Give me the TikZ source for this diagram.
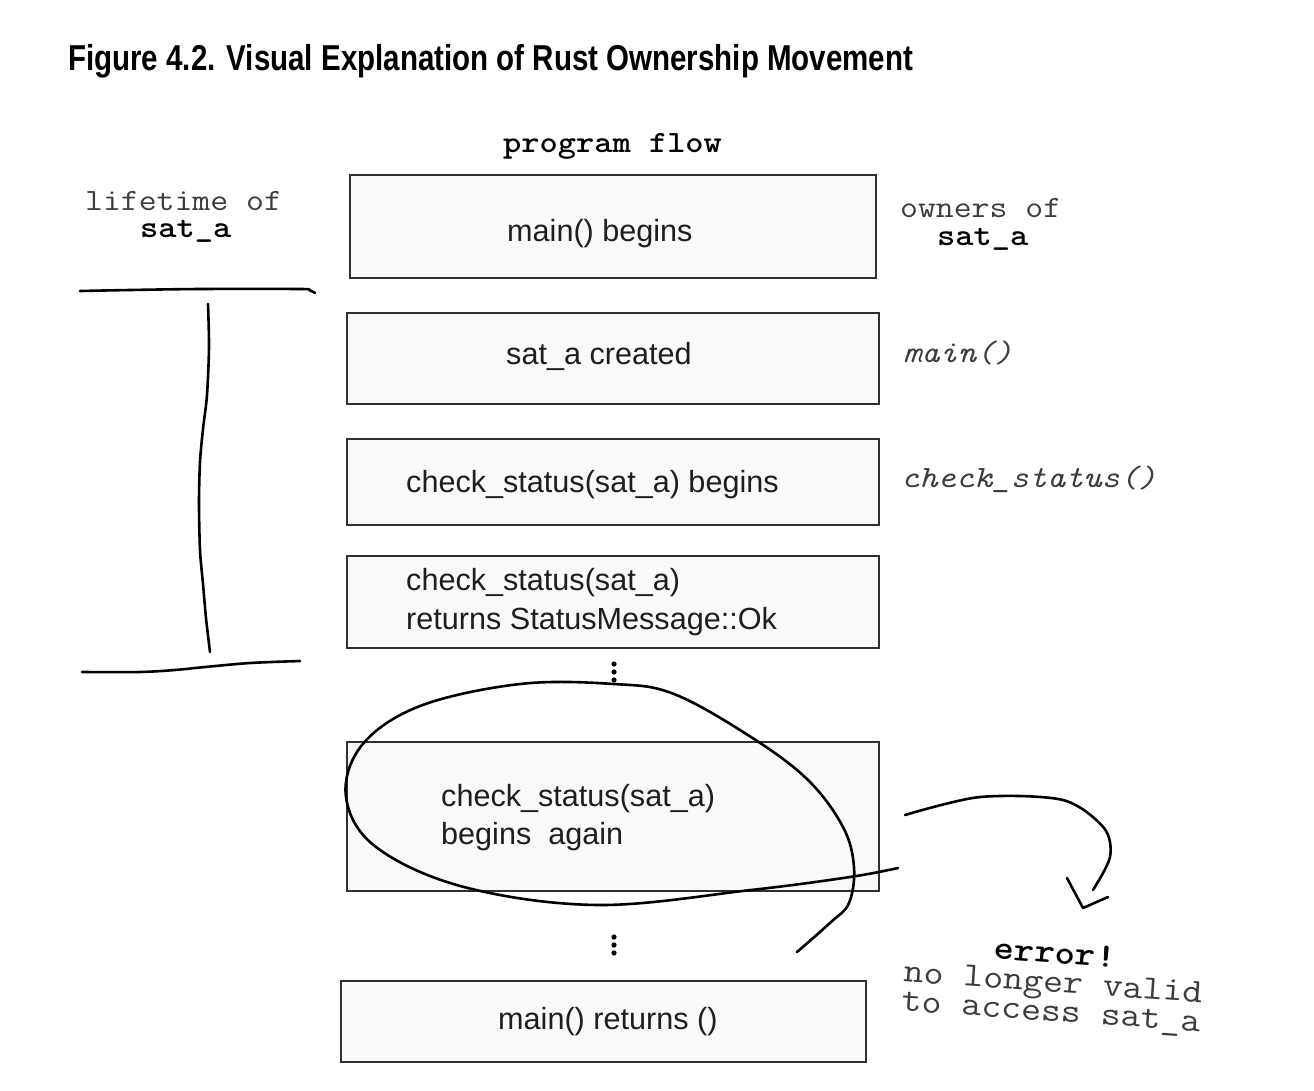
\documentclass[tikz,border=0pt]{standalone}
\usepackage{fontspec}
\setmainfont{Liberation Sans}
\usepackage{graphicx}
\definecolor{boxfill}{HTML}{F9F9F9}
\definecolor{boxline}{HTML}{303030}
\definecolor{txt}{HTML}{1E1E1E}
\definecolor{lbl}{HTML}{3C3C3C}
\newcommand{\mtr}[1]{\scalebox{1.12}[1]{\fontsize{31}{31}\selectfont\ttfamily #1}}
\newcommand{\mtb}[1]{\scalebox{1.12}[1]{\fontsize{31}{31}\selectfont\ttfamily\bfseries #1}}
\newcommand{\mti}[1]{\scalebox{1.12}[1]{\fontsize{31}{31}\selectfont\ttfamily\itshape #1}}
\newcommand{\mter}[1]{\scalebox{1.14}[1]{\fontsize{34}{34}\selectfont\ttfamily #1}}
\newcommand{\mterb}[1]{\scalebox{1.14}[1]{\fontsize{34}{34}\selectfont\ttfamily\bfseries #1}}
\begin{document}
\begin{tikzpicture}[x=1pt,y=-1pt,
  flowbox/.style={draw=boxline, fill=boxfill, line width=2pt, inner sep=0pt, rectangle},
  boxtext/.style={anchor=base west, inner sep=0pt, text=txt, font=\fontsize{30.6}{38}\selectfont},
  lbltext/.style={anchor=base west, inner sep=0pt, text=lbl},
  hand/.style={line width=2.6pt, black, line cap=round, line join=round}]
\useasboundingbox[fill=white] (0,0) rectangle (1314,1090);

% title
\node[anchor=base west, inner sep=0pt] (title) at (68,70)
  {\resizebox{845pt}{\height}{\fontsize{36}{36}\selectfont\bfseries Figure 4.2. Visual Explanation of Rust Ownership Movement}};

% headings
\node[anchor=base west, inner sep=0pt] (flowhead) at (503,152) {\mtb{program flow}};
\node[lbltext] (lifehead) at (85,210) {\mtr{lifetime of}};
\node[anchor=base west, inner sep=0pt] (lifesat) at (140,237) {\mtb{sat\_a}};
\node[lbltext] (ownhead) at (900,217) {\mtr{owners of}};
\node[anchor=base west, inner sep=0pt] (ownsat) at (937,245) {\mtb{sat\_a}};

% boxes
\node[flowbox, minimum width=526pt, minimum height=103pt] (b1) at (613,226.5) {};
\node[flowbox, minimum width=532pt, minimum height=91pt] (b2) at (613,358.5) {};
\node[flowbox, minimum width=532pt, minimum height=86pt] (b3) at (613,482) {};
\node[flowbox, minimum width=532pt, minimum height=92pt] (b4) at (613,602) {};
\node[flowbox, minimum width=532pt, minimum height=149pt] (b5) at (613,816.5) {};
\node[flowbox, minimum width=525pt, minimum height=81pt] (b6) at (603.5,1021.5) {};

% box texts
\node[boxtext] (t1) at (507,241) {main() begins};
\node[boxtext] (t2) at (506,364) {sat\_a created};
\node[boxtext] (t3) at (406,492) {check\_status(sat\_a) begins};
\node[boxtext] (t4a) at (406,590) {check\_status(sat\_a)};
\node[boxtext] (t4b) at (406,629) {returns StatusMessage::Ok};
\node[boxtext] (t5a) at (441,806) {check\_status(sat\_a)};
\node[boxtext] (t5b) at (441,844) {begins\ \ again};
\node[boxtext] (t6) at (498,1029) {main() returns ()};

% owners
\node[lbltext] (own1) at (903,362) {\mti{main()}};
\node[lbltext] (own2) at (901,487) {\mti{check\_status()}};

% vertical ellipses
\foreach \yy in {664,672,680} \fill (614,\yy) circle[radius=2.6pt];
\foreach \yy in {937,945,953} \fill (614,\yy) circle[radius=2.6pt];

% lifetime bracket
\draw[hand] plot[smooth] coordinates {(80,291) (130,290) (200,289) (300,289) (309,290) (315,293)};
\draw[hand] plot[smooth] coordinates {(208,304) (209,347) (207,395) (203,429) (200,462) (199,503) (200,550) (203,584) (206,618) (210,652)};
\draw[hand] plot[smooth] coordinates {(82,672) (140,672) (175,670) (205,667) (250,663) (300,661)};

% hand-drawn loop around box 5
\draw[hand] plot[smooth, tension=0.6] coordinates {(898,868) (850,877) (751,890) (598,905) (464,887) (376,847) (346,797) (362,745) (420,706) (520,684) (614,684) (674,694) (751,737) (808,780) (843,827) (854,867) (849,903) (831,922) (797,952)};

% error label
\node[inner sep=0pt, align=center, rotate=-4, text=lbl, font=\fontsize{34}{29}\selectfont] (err) at (1053,985)
  {\mterb{\textcolor{black}{error!}}\\ \mter{no longer valid}\\ \mter{to access sat\_a}};

% curved arrow to error
\coordinate (as) at (905,815);
\coordinate (ae) at (1093,890);
\draw[hand] plot[smooth] coordinates {(as) (980,797) (1063,800) (1104,828) (1110,857) (ae)};
\draw[hand] (1067,878) -- (1083,908) -- (1108,897);
\end{tikzpicture}
\end{document}
